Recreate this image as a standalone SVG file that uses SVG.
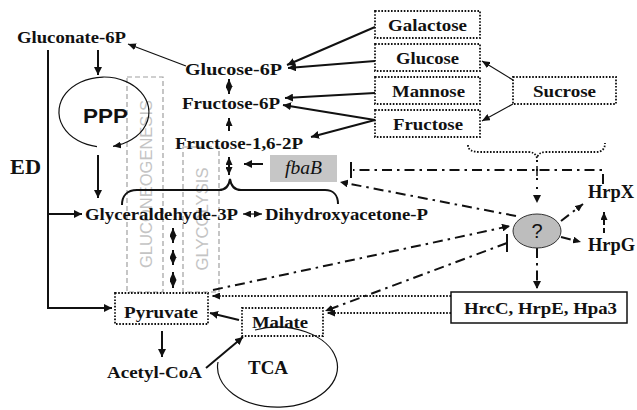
<svg xmlns="http://www.w3.org/2000/svg" width="637" height="410" viewBox="0 0 637 410">
<style>
.t{font-family:"Liberation Serif","Times New Roman",serif;font-weight:bold;font-size:17px;fill:#111}
.s{font-family:"Liberation Sans",Arial,sans-serif}
.g{font-family:"Liberation Sans",Arial,sans-serif;font-size:16px;fill:#c4c4c4}
.dot{fill:none;stroke:#111;stroke-width:1.8;stroke-dasharray:1.6 1.6}
.grey{fill:none;stroke:#a0a0a0;stroke-width:1.2;stroke-dasharray:5 3}
.ln{fill:none;stroke:#111;stroke-width:2}
.thin{fill:none;stroke:#111;stroke-width:1.2}
.dd{fill:none;stroke:#111;stroke-width:2;stroke-dasharray:10 5 2.5 5}
.dl{fill:none;stroke:#111;stroke-width:1.8;stroke-dasharray:1.6 1.6}
</style>
<defs>
<marker id="a" markerUnits="userSpaceOnUse" markerWidth="10" markerHeight="8" refX="8" refY="4" orient="auto-start-reverse"><path d="M0,0 L8,4 L0,8 z" fill="#111"/></marker>
<marker id="as" markerUnits="userSpaceOnUse" markerWidth="9" markerHeight="7" refX="8" refY="3.5" orient="auto-start-reverse"><path d="M0,0 L8,3.5 L0,7 z" fill="#111"/></marker>
</defs>

<g id="gluconeogenesis-box"><rect class="grey" x="127" y="77" width="36" height="215"/><text class="g" transform="translate(146,184) rotate(-90)" text-anchor="middle" dominant-baseline="central" textLength="168" lengthAdjust="spacingAndGlyphs">GLUCONEOGENESIS</text></g>
<g id="glycolysis-box"><rect class="grey" x="183" y="147" width="36" height="145"/><text class="g" transform="translate(202,219) rotate(-90)" text-anchor="middle" dominant-baseline="central" textLength="103" lengthAdjust="spacingAndGlyphs">GLYCOLYSIS</text></g>

<g id="connectors">
<line class="thin" x1="186" y1="66" x2="128" y2="44" marker-end="url(#as)"/>
<line class="ln" x1="98" y1="50" x2="98" y2="75" marker-end="url(#a)"/>
<path class="thin" d="M97,146.6 A45,35 0 1 1 113,146.3" marker-end="url(#as)"/>
<line class="ln" x1="98" y1="155" x2="98" y2="198" marker-end="url(#a)"/>
<path class="ln" d="M48,50 V308 H112" marker-end="url(#a)"/>
<path class="ln" d="M48,214 H82" marker-end="url(#a)"/>
<line class="ln" x1="229" y1="79" x2="229" y2="94" marker-start="url(#as)" marker-end="url(#as)"/>
<line class="ln" x1="229" y1="131" x2="229" y2="118" marker-end="url(#as)"/>
<line class="ln" x1="229" y1="157" x2="229" y2="175" marker-start="url(#as)" marker-end="url(#as)"/>
<line class="ln" x1="263" y1="164" x2="244" y2="164" marker-end="url(#a)"/>
<path class="ln" d="M122,205 C122,196 127,190 137,190 H219 C225,190 229,186 230,179 C231,186 235,190 241,190 H325 C333,190 338,195 338,204"/>
<line class="thin" x1="243" y1="214" x2="262" y2="214" marker-start="url(#as)" marker-end="url(#as)"/>
<line class="ln" x1="173" y1="228" x2="173" y2="243" marker-start="url(#as)" marker-end="url(#as)"/>
<line class="ln" x1="173" y1="250" x2="173" y2="265" marker-start="url(#as)" marker-end="url(#as)"/>
<line class="ln" x1="173" y1="272" x2="173" y2="288" marker-start="url(#as)" marker-end="url(#as)"/>
<line class="ln" x1="375" y1="27" x2="287" y2="65" marker-end="url(#a)"/>
<line class="ln" x1="375" y1="61" x2="288" y2="68" marker-end="url(#a)"/>
<line class="ln" x1="375" y1="93" x2="285" y2="98" marker-end="url(#a)"/>
<line class="ln" x1="375" y1="120" x2="283" y2="105" marker-end="url(#a)"/>
<line class="ln" x1="375" y1="120" x2="311" y2="137" marker-end="url(#a)"/>
<line class="thin" x1="513" y1="80" x2="482" y2="61" marker-end="url(#as)"/>
<line class="thin" x1="513" y1="104" x2="482" y2="121" marker-end="url(#as)"/>
<path class="dl" d="M468,145 C468,150 472,152 480,152 H528 C533,152 536,154 537,158 C538,154 541,152 546,152 H596 C602,152 605,149 605,143"/>
<line class="dd" x1="537" y1="160" x2="537" y2="203" style="stroke-dasharray:2 7" marker-end="url(#a)"/>
<line class="ln" x1="537" y1="166" x2="537" y2="176" style="stroke-width:1.5"/>
<path class="dd" d="M603,184 V170 H353"/>
<line class="ln" x1="351" y1="162" x2="351" y2="178"/>
<line class="dd" x1="516" y1="216" x2="340" y2="182" marker-end="url(#a)"/>
<line class="dd" x1="213" y1="290" x2="510" y2="226" marker-end="url(#a)"/>
<line class="dd" x1="507" y1="243" x2="325" y2="311" marker-end="url(#as)"/>
<line class="ln" x1="507" y1="234" x2="507" y2="252"/>
<line class="dd" x1="561" y1="221" x2="583" y2="204" marker-end="url(#as)"/>
<line class="dd" x1="561" y1="237" x2="581" y2="242" marker-end="url(#as)"/>
<line class="dd" x1="604" y1="233" x2="604" y2="212" style="stroke-dasharray:5 3" marker-end="url(#as)"/>
<line class="dd" x1="537" y1="248" x2="537" y2="289" marker-end="url(#a)"/>
<path class="dl" d="M451,296 H212" marker-end="url(#as)"/>
<path class="dl" d="M451,313 H327" marker-end="url(#as)"/>
<line class="ln" x1="162" y1="331" x2="162" y2="357" marker-end="url(#a)"/>
<line class="ln" x1="239" y1="320" x2="210" y2="313" marker-end="url(#a)"/>
<line class="ln" x1="206" y1="368" x2="243" y2="337" marker-end="url(#a)"/>
<path class="thin" d="M255,330 A60,40 0 1 1 218,362"/>
</g>

<g id="gluconate-6p"><text class="t" x="17" y="43" textLength="109" lengthAdjust="spacingAndGlyphs">Gluconate-6P</text></g>
<g id="ppp"><text class="s" x="83" y="123" font-size="21" font-weight="bold" fill="#111" textLength="45" lengthAdjust="spacingAndGlyphs">PPP</text></g>
<g id="ed"><text class="t" x="10" y="174" style="font-size:20px" textLength="31" lengthAdjust="spacingAndGlyphs">ED</text></g>
<g id="glucose-6p"><text class="t" x="185" y="75" textLength="97" lengthAdjust="spacingAndGlyphs">Glucose-6P</text></g>
<g id="fructose-6p"><text class="t" x="182" y="109" textLength="98" lengthAdjust="spacingAndGlyphs">Fructose-6P</text></g>
<g id="fructose-16-2p"><text class="t" x="175" y="149" textLength="128" lengthAdjust="spacingAndGlyphs">Fructose-1,6-2P</text></g>
<g id="fbab"><rect x="270" y="155" width="67" height="27" fill="#c6c6c6"/><text x="285" y="174" font-family="Liberation Serif, serif" font-style="italic" font-size="18" fill="#111" textLength="37" lengthAdjust="spacingAndGlyphs">fbaB</text></g>
<g id="glyceraldehyde-3p"><text class="t" x="85" y="220" textLength="153" lengthAdjust="spacingAndGlyphs">Glyceraldehyde-3P</text></g>
<g id="dihydroxyacetone-p"><text class="t" x="265" y="220" textLength="163" lengthAdjust="spacingAndGlyphs">Dihydroxyacetone-P</text></g>
<g id="galactose"><rect class="dot" x="375" y="11" width="105" height="27"/><text class="t" x="388" y="31" textLength="79" lengthAdjust="spacingAndGlyphs">Galactose</text></g>
<g id="glucose"><rect class="dot" x="375" y="44" width="105" height="27"/><text class="t" x="396" y="64" textLength="63" lengthAdjust="spacingAndGlyphs">Glucose</text></g>
<g id="mannose"><rect class="dot" x="375" y="77" width="105" height="27"/><text class="t" x="392" y="97" textLength="73" lengthAdjust="spacingAndGlyphs">Mannose</text></g>
<g id="fructose"><rect class="dot" x="375" y="110" width="105" height="27"/><text class="t" x="393" y="130" textLength="70" lengthAdjust="spacingAndGlyphs">Fructose</text></g>
<g id="sucrose"><rect class="dot" x="513" y="77" width="103" height="27"/><text class="t" x="533" y="97" textLength="63" lengthAdjust="spacingAndGlyphs">Sucrose</text></g>
<g id="unknown"><ellipse cx="537" cy="231" rx="24" ry="17" fill="#bdbdbd" stroke="#333" stroke-width="1"/><text class="s" x="537" y="238" font-size="20" fill="#111" text-anchor="middle">?</text></g>
<g id="hrpx"><text class="t" x="588" y="198" style="font-size:18px" textLength="46" lengthAdjust="spacingAndGlyphs">HrpX</text></g>
<g id="hrpg"><text class="t" x="588" y="251" style="font-size:18px" textLength="47" lengthAdjust="spacingAndGlyphs">HrpG</text></g>
<g id="hrcc"><rect x="451" y="292" width="176" height="31" fill="#fff" stroke="#111" stroke-width="1.5"/><text class="t" x="464" y="314" textLength="153" lengthAdjust="spacingAndGlyphs">HrcC, HrpE, Hpa3</text></g>
<g id="pyruvate"><rect class="dot" x="115" y="293" width="93" height="31"/><text class="t" x="124" y="318" textLength="74" lengthAdjust="spacingAndGlyphs">Pyruvate</text></g>
<g id="malate"><rect class="dot" x="242" y="308" width="81" height="28"/><text class="t" x="252" y="328" textLength="56" lengthAdjust="spacingAndGlyphs">Malate</text></g>
<g id="acetyl-coa"><text class="t" x="107" y="378" textLength="95" lengthAdjust="spacingAndGlyphs">Acetyl-CoA</text></g>
<g id="tca"><text class="t" x="248" y="374" style="font-size:19px" textLength="40" lengthAdjust="spacingAndGlyphs">TCA</text></g>
</svg>
